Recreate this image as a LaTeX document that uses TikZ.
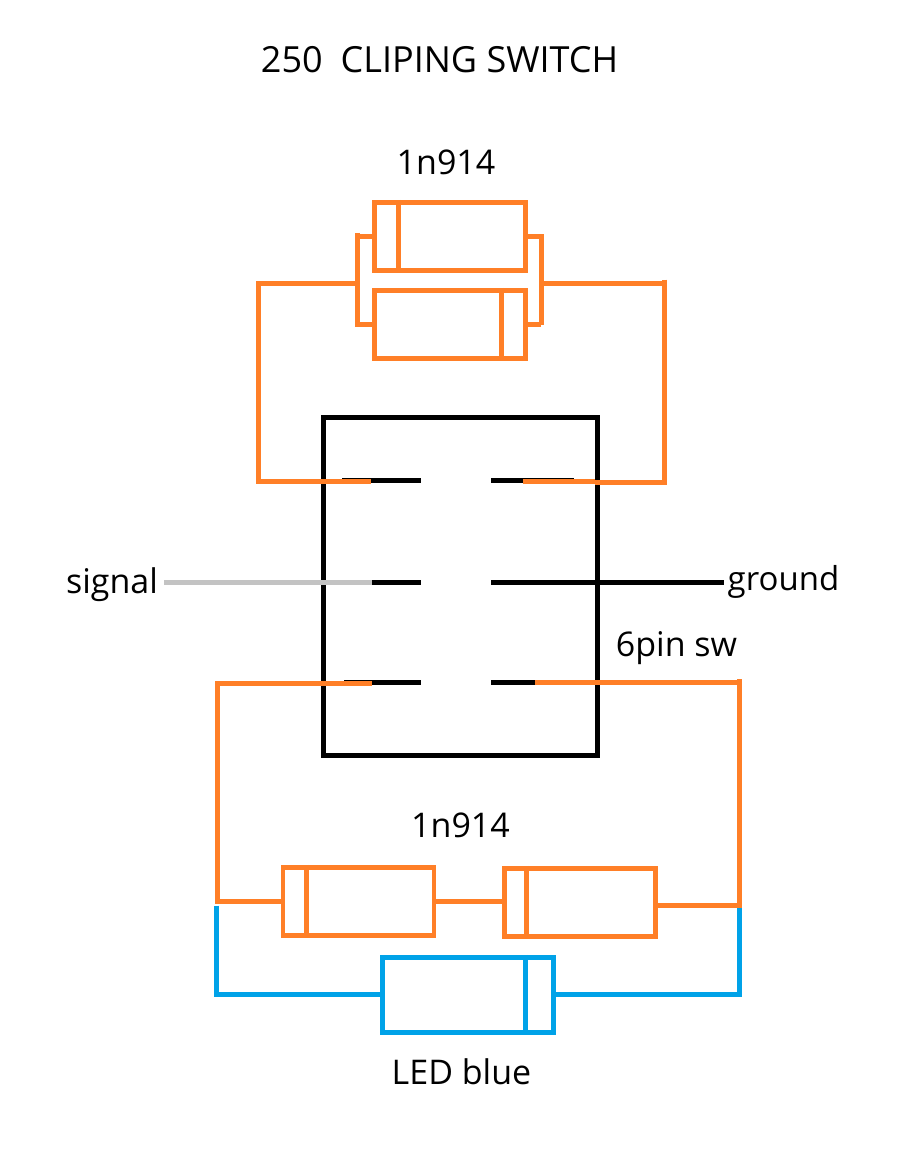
\documentclass[tikz,border=0pt]{standalone}
\usepackage{fontspec}
\setmainfont{Open Sans}
\usetikzlibrary{positioning}
\definecolor{wireorange}{HTML}{FF7F27}
\definecolor{wireblue}{HTML}{00A2E8}
\definecolor{wiregray}{HTML}{C3C3C3}
\tikzset{
  wire/.style={line width=5pt},
  diode/.style={draw,rectangle,line width=4.8pt,inner sep=0pt,minimum width=151.4pt,minimum height=68pt},
  label/.style={inner sep=0pt,font=\fontsize{34}{40}\selectfont}
}

\begin{document}
\begin{tikzpicture}[x=1pt,y=-1pt]
\useasboundingbox (0,0) rectangle (912,1150);
%%
  \node (title) at (439.5,60) [label,font=\fontsize{36}{42}\selectfont] {250\hspace{18pt}CLIPING SWITCH};
  \node (topname) at (446,162) [label] {1n914};
  \node (botname) at (460.5,825) [label] {1n914};
  \node (ledname) at (461.5,1071.5) [label] {LED blue};
  \node (signal) at (112,585) [label] {signal};
  \node (ground) at (783.5,582) [label,font=\fontsize{33}{40}\selectfont] {ground};
  \node (swname) at (676.5,648) [label] {6pin sw};
%
  \node (sw) at (460.3,586.3) [draw,rectangle,line width=5pt,inner sep=0pt,minimum width=274pt,minimum height=338pt] {};
  \node (d1) at (450,236.3) [diode,wireorange] {};
  \node (d2) at (450,324.3) [diode,wireorange] {};
  \node (d3) at (358.5,901.3) [diode,wireorange,minimum width=151pt] {};
  \node (d4) at (580,902.3) [diode,wireorange,minimum width=151pt] {};
  \node (led) at (468,994.8) [diode,wireblue,minimum width=171pt,minimum height=75pt] {};
%
  \coordinate (a1) at (342,480.3);
  \coordinate (a2) at (421,480.3);
  \coordinate (a3) at (491,480.3);
  \coordinate (a4) at (574,480.3);
  \coordinate (b1) at (372,582.3);
  \coordinate (b2) at (421,582.3);
  \coordinate (b3) at (491,582.3);
  \coordinate (b4) at (724,582.3);
  \coordinate (b0) at (164,582.3);
  \coordinate (c1) at (344,682.3);
  \coordinate (c2) at (421,682.3);
  \coordinate (c3) at (491,682.3);
  \coordinate (c4) at (535,682.3);
%
  \draw [wire] (a1) -- (a2);
  \draw [wire] (a3) -- (a4);
  \draw [wire] (b1) -- (b2);
  \draw [wire] (b3) -- (b4);
  \draw [wire] (c1) -- (c2);
  \draw [wire] (c3) -- (c4);
  \draw [wire,wiregray] (b0) -- (b1);
%
  \coordinate (band1) at (398.3,236);
  \coordinate (band2) at (501.3,324);
  \coordinate (band3) at (306.4,901);
  \coordinate (band4) at (526,902);
  \coordinate (band5) at (525.4,995);
  \draw [wire,wireorange] (band1 |- d1.north) -- (band1 |- d1.south);
  \draw [wire,wireorange] (band2 |- d2.north) -- (band2 |- d2.south);
  \draw [wire,wireorange] (band3 |- d3.north) -- (band3 |- d3.south);
  \draw [wire,wireorange] (band4 |- d4.north) -- (band4 |- d4.south);
  \draw [wire,wireblue] (band5 |- led.north) -- (band5 |- led.south);
%
  \coordinate (lbus1) at (357.3,233);
  \coordinate (lbus2) at (357.3,327);
  \coordinate (rbus1) at (541.3,234.3);
  \coordinate (rbus2) at (541.3,325.3);
  \draw [wire,wireorange] (lbus1) -- (lbus2);
  \draw [wire,wireorange] (rbus1) -- (rbus2);
  \draw [wire,wireorange] (d1.west) -- (d1.west -| lbus1);
  \draw [wire,wireorange] (d2.west) -- (d2.west -| lbus1);
  \draw [wire,wireorange] (d1.east) -- (d1.east -| rbus1);
  \draw [wire,wireorange] (d2.east) -- (d2.east -| rbus1);
%
  \coordinate (lwire) at (258.3,283.3);
  \coordinate (lend) at (370.7,481);
  \coordinate (rwire) at (664.3,283.3);
  \coordinate (rtop) at (664.3,279.5);
  \coordinate (rend) at (523.3,481.3);
  \coordinate (rmid) at (595,481.3);
  \draw [wire,wireorange] (lbus1 |- lwire) -- (lwire) -- (lwire |- lend) -- (lend);
  \draw [wire,wireorange] (rbus1 |- rwire) -- (rwire);
  \draw [wire,wireorange] (rtop) -- (664.3,482.3) -- (595,482.3);
  \draw [wire,wireorange] (rend) -- (rmid);
%
  \coordinate (lbot) at (217,683);
  \coordinate (lbotend) at (372,683);
  \coordinate (rbot) at (739.3,682.3);
  \coordinate (rbottop) at (739.3,679);
  \coordinate (rbotlow) at (739.3,905.3);
  \draw [wire,wireorange] (lbotend) -- (lbot) -- (lbot |- d3.west) -- (d3.west);
  \draw [wire,wireorange] (c4) -- (rbot);
  \draw [wire,wireorange] (rbottop) -- (rbotlow) -- (d4.east |- rbotlow);
  \draw [wire,wireorange] (d3.east) -- (d3.east -| d4.west);
%
  \coordinate (bl1) at (216,905.7);
  \coordinate (br1) at (739.6,908);
  \draw [wire,wireblue] (bl1) -- (bl1 |- led.west) -- (led.west);
  \draw [wire,wireblue] (br1) -- (br1 |- led.east) -- (led.east);
%
\end{tikzpicture}
\end{document}
